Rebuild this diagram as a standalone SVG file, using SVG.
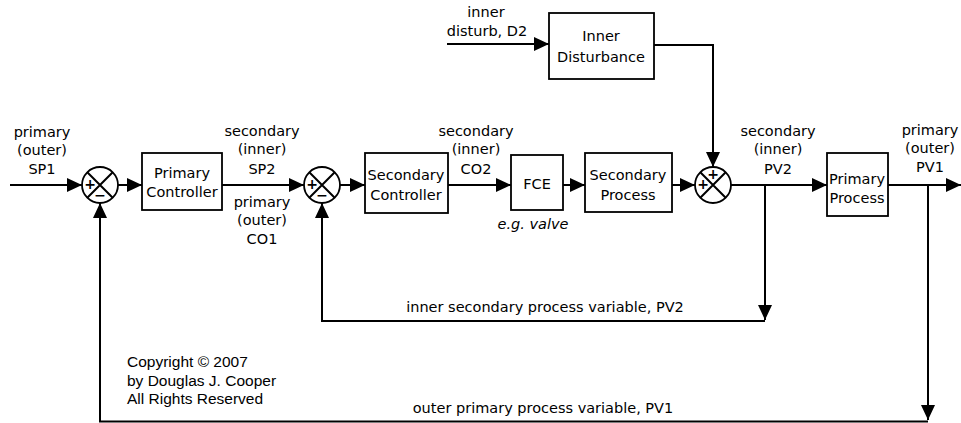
<svg xmlns="http://www.w3.org/2000/svg" width="961" height="423" viewBox="0 0 961 423">
<style>
.box{fill:#fff;stroke:#000;stroke-width:1.8}
.ln{fill:none;stroke:#000;stroke-width:2}
.t{font-family:"DejaVu Sans",Verdana,sans-serif;font-size:14.5px;fill:#000;text-anchor:middle}
.s{font-family:"DejaVu Sans",sans-serif;font-size:14px;font-weight:bold;fill:#000;text-anchor:middle}
.c{font-family:"Liberation Sans",Arial,sans-serif;font-size:15.5px;fill:#000}
</style>
<defs>
<marker id="ah" markerUnits="userSpaceOnUse" markerWidth="16" markerHeight="14" refX="15" refY="7" orient="auto">
<path d="M0,0 L15,7 L0,14 Z" fill="#000"/>
</marker>
</defs>
<rect width="961" height="423" fill="#fff"/>
<g id="connectors" class="ln">
<line x1="10" y1="185" x2="82" y2="185" marker-end="url(#ah)"/>
<line x1="118" y1="185" x2="142" y2="185" marker-end="url(#ah)"/>
<line x1="222" y1="185" x2="304" y2="185" marker-end="url(#ah)"/>
<line x1="340" y1="185" x2="365" y2="185" marker-end="url(#ah)"/>
<line x1="448" y1="185" x2="511" y2="185" marker-end="url(#ah)"/>
<line x1="563" y1="185" x2="585" y2="185" marker-end="url(#ah)"/>
<line x1="672" y1="185" x2="695" y2="185" marker-end="url(#ah)"/>
<line x1="731" y1="185" x2="827" y2="185" marker-end="url(#ah)"/>
<line x1="888" y1="185" x2="961" y2="185" marker-end="url(#ah)"/>
<line x1="447" y1="44" x2="549" y2="44" marker-end="url(#ah)"/>
<polyline points="654,45 713,45 713,167" marker-end="url(#ah)"/>
<line x1="765" y1="185" x2="765" y2="320" marker-end="url(#ah)"/>
<polyline points="765,321 322,321 322,203" marker-end="url(#ah)"/>
<line x1="928" y1="185" x2="928" y2="420" marker-end="url(#ah)"/>
<polyline points="928,421.5 100,421.5 100,203" marker-end="url(#ah)"/>
</g>
<g id="sum1">
<circle cx="100" cy="185" r="18" class="box"/>
<path d="M87.3,172.3 L112.7,197.7 M112.7,172.3 L87.3,197.7" class="ln" stroke-width="1.5"/>
<text x="90" y="189" class="s">+</text>
<text x="100" y="200" class="s">−</text>
</g>
<g id="primary-controller">
<rect x="142" y="153" width="80" height="57" class="box"/>
<text x="182" y="178" class="t">Primary</text>
<text x="182" y="197" class="t">Controller</text>
</g>
<g id="sum2">
<circle cx="322" cy="185" r="18" class="box"/>
<path d="M309.3,172.3 L334.7,197.7 M334.7,172.3 L309.3,197.7" class="ln" stroke-width="1.5"/>
<text x="312" y="189" class="s">+</text>
<text x="322" y="200" class="s">−</text>
</g>
<g id="secondary-controller">
<rect x="365" y="153" width="83" height="60" class="box"/>
<text x="406" y="180" class="t">Secondary</text>
<text x="406" y="200" class="t">Controller</text>
</g>
<g id="fce">
<rect x="511" y="155" width="52" height="55" class="box"/>
<text x="537" y="189" class="t">FCE</text>
</g>
<g id="secondary-process">
<rect x="585" y="153" width="87" height="59" class="box"/>
<text x="628" y="180" class="t">Secondary</text>
<text x="628" y="200" class="t">Process</text>
</g>
<g id="sum3">
<circle cx="713" cy="185" r="18" class="box"/>
<path d="M700.3,172.3 L725.7,197.7 M725.7,172.3 L700.3,197.7" class="ln" stroke-width="1.5"/>
<text x="713" y="179" class="s">+</text>
<text x="703" y="189" class="s">+</text>
</g>
<g id="primary-process">
<rect x="827" y="153" width="61" height="63" class="box"/>
<text x="857" y="184" class="t">Primary</text>
<text x="857" y="203" class="t">Process</text>
</g>
<g id="inner-disturbance">
<rect x="549" y="13" width="105" height="66" class="box"/>
<text x="601" y="41" class="t">Inner</text>
<text x="601" y="62" class="t">Disturbance</text>
</g>
<g id="labels">
<text x="42" y="137" class="t">primary</text>
<text x="42" y="155" class="t">(outer)</text>
<text x="42" y="174" class="t">SP1</text>
<text x="262" y="136" class="t">secondary</text>
<text x="262" y="154" class="t">(inner)</text>
<text x="262" y="174" class="t">SP2</text>
<text x="262" y="207" class="t">primary</text>
<text x="262" y="225" class="t">(outer)</text>
<text x="262" y="244" class="t">CO1</text>
<text x="476" y="136" class="t">secondary</text>
<text x="476" y="154" class="t">(inner)</text>
<text x="476" y="174" class="t">CO2</text>
<text x="533" y="229" class="t" font-style="italic">e.g. valve</text>
<text x="778" y="136" class="t">secondary</text>
<text x="778" y="154" class="t">(inner)</text>
<text x="778" y="174" class="t">PV2</text>
<text x="930" y="135" class="t">primary</text>
<text x="930" y="153" class="t">(outer)</text>
<text x="930" y="172" class="t">PV1</text>
<text x="486" y="17" class="t">inner</text>
<text x="487" y="36" class="t">disturb, D2</text>
<text x="545" y="312" class="t">inner secondary process variable, PV2</text>
<text x="543" y="413" class="t">outer primary process variable, PV1</text>
<text x="127" y="367" class="c">Copyright © 2007</text>
<text x="127" y="386" class="c">by Douglas J. Cooper</text>
<text x="127" y="404" class="c">All Rights Reserved</text>
</g>
</svg>
